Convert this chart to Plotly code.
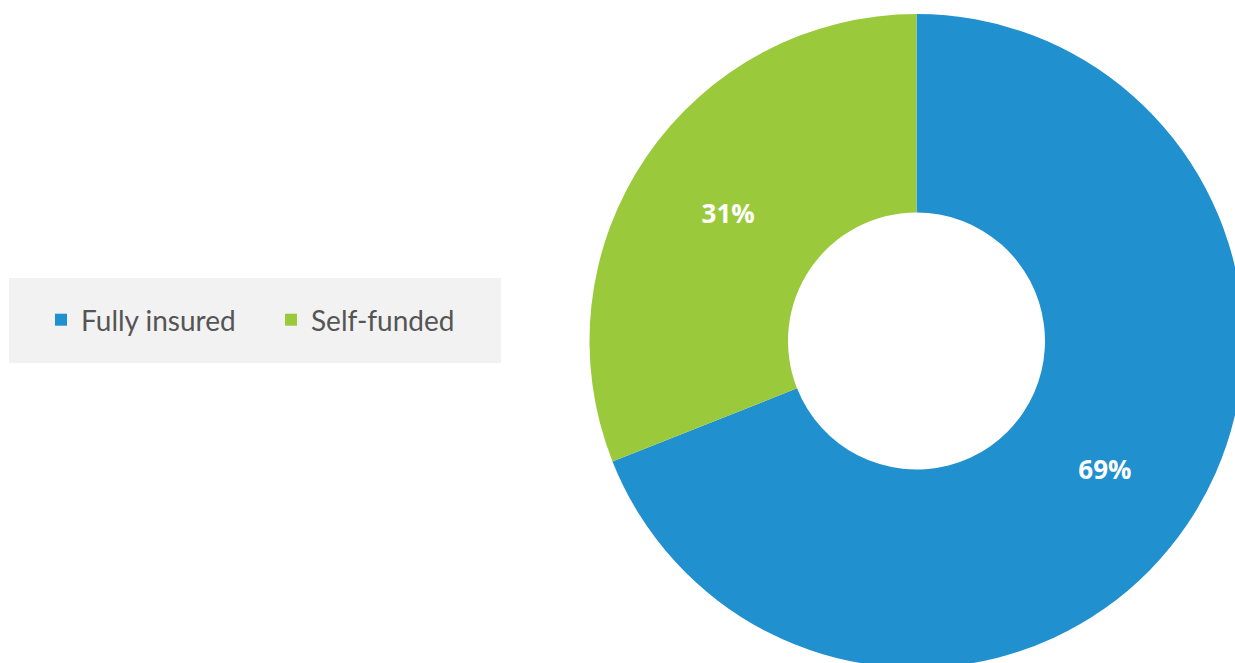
import plotly.graph_objects as go

# Funding arrangement split
categories = ["Fully insured", "Self-funded"]
shares = [69, 31]
colors = ["#2090CE", "#9ACA3C"]

W, H = 1245, 680
M_T, M_B = 14, 12
plot_h = H - M_T - M_B

def px_x(x):
    return x / W

def px_y(y):
    return 1 - (y - M_T) / plot_h

cx, r = 916.5, 327

fig = go.Figure(
    go.Pie(
        labels=categories,
        values=shares,
        hole=0.393,
        sort=False,
        direction="clockwise",
        rotation=0,
        marker=dict(colors=colors, line=dict(width=0)),
        textinfo="percent",
        texttemplate="%{percent:.0%}",
        textposition="inside",
        insidetextorientation="horizontal",
        textfont=dict(family="Open Sans", size=26, color="white", weight="bold"),
        domain=dict(x=[px_x(cx - r), px_x(cx + r)], y=[0, 1]),
        hoverinfo="label+percent",
    )
)

# Grey panel behind the legend
fig.add_shape(
    type="rect",
    xref="paper", yref="paper",
    x0=px_x(9), x1=px_x(501),
    y0=px_y(363), y1=px_y(278),
    fillcolor="#F2F2F2",
    line=dict(width=0),
    layer="below",
)

fig.update_layout(
    width=W,
    height=H,
    margin=dict(l=0, r=0, t=M_T, b=M_B, pad=0),
    paper_bgcolor="white",
    plot_bgcolor="white",
    showlegend=True,
    legend=dict(
        orientation="h",
        x=px_x(41),
        xanchor="left",
        y=px_y(320),
        yanchor="middle",
        bgcolor="rgba(0,0,0,0)",
        font=dict(family="Lato", size=28, color="#555555"),
        entrywidth=185,
        entrywidthmode="pixels",
        traceorder="normal",
    ),
)

fig.write_html(
    "out.html",
    post_script="document.body.style.overflow='hidden';document.documentElement.style.overflow='hidden';",
)
